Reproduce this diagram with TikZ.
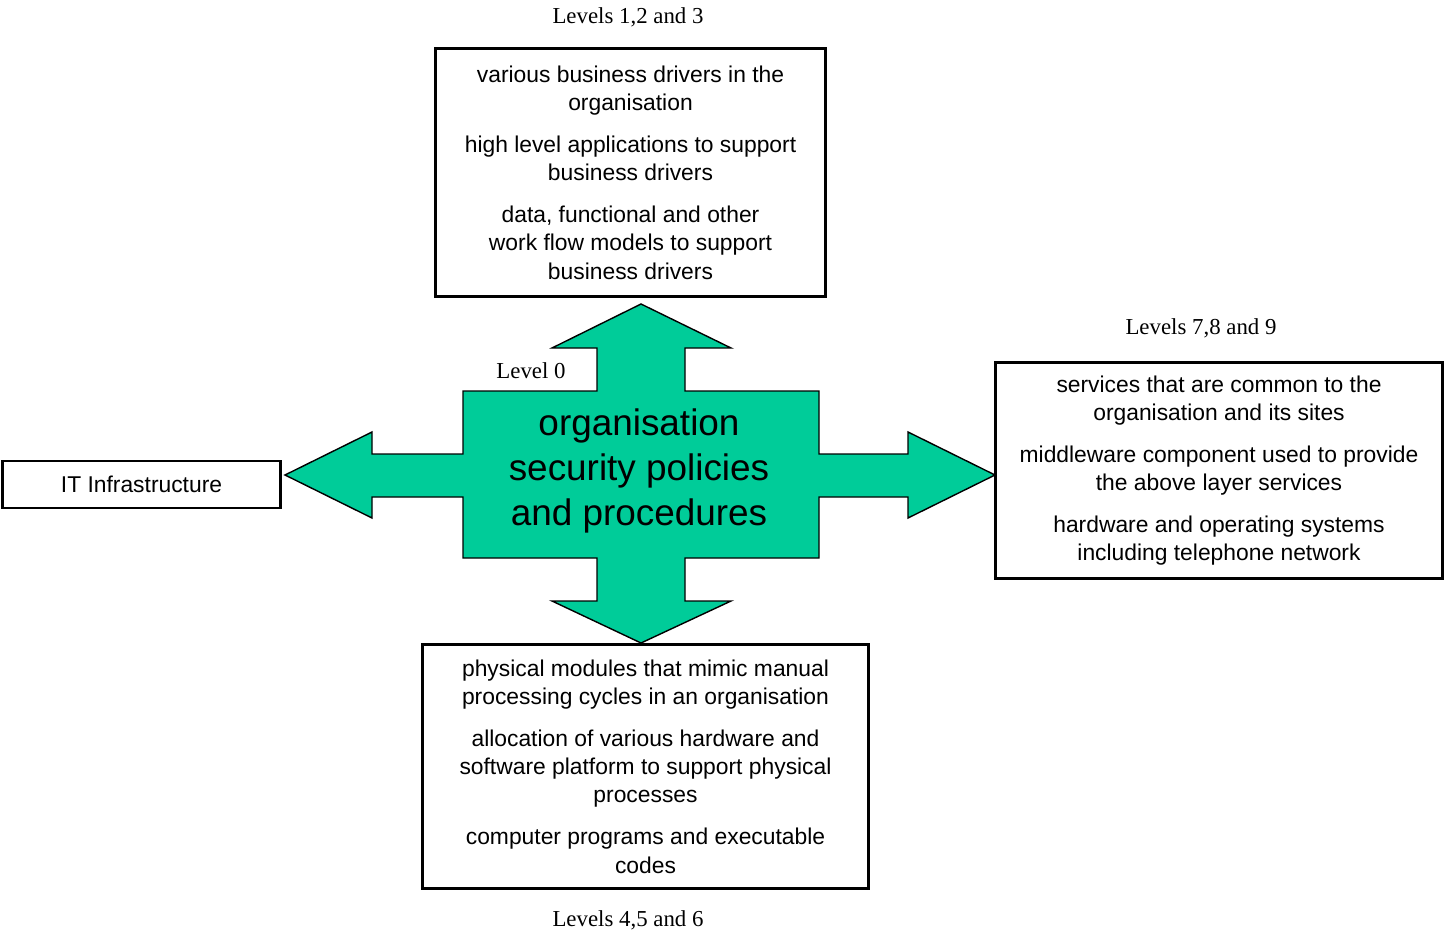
\documentclass[tikz,border=0pt]{standalone}
\usepackage{fontspec}
\setmainfont{Liberation Serif}
\setsansfont{Liberation Sans}
\definecolor{policygreen}{RGB}{0,204,153}

\tikzset{
  levelbox/.style={draw, line width=1.7pt, align=center, inner sep=0pt,
    font=\sffamily\fontsize{13}{16}\selectfont},
  levellabel/.style={font=\fontsize{13}{15}\selectfont},
  policyarm/.style={fill=policygreen, draw=black, line width=0.8pt},
}

\begin{document}
\begin{tikzpicture}[x=0.02cm, y=-0.02cm]
  \useasboundingbox (0,0) rectangle (1446,932);
  % four-way arrow around the level 0 policies
  \filldraw[policyarm] (641,304) -- (731,348) -- (685,348) -- (685,391)
    -- (819,391) -- (819,454) -- (908,454) -- (908,432) -- (995,475)
    -- (908,518) -- (908,497) -- (819,497) -- (819,558) -- (685,558)
    -- (685,601) -- (731,601) -- (641,643) -- (552,601) -- (597,601)
    -- (597,558) -- (463,558) -- (463,497) -- (372,497) -- (372,518)
    -- (285,475) -- (372,432) -- (372,454) -- (463,454) -- (463,391)
    -- (597,391) -- (597,348) -- (552,348) -- cycle;
  \node[font=\sffamily\fontsize{21}{25.8}\selectfont, align=center] (policy) at (639,471)
    {organisation\\security policies\\and procedures};
  \node[levellabel] (lvl0) at (531,371) {Level 0};

  % levels 1,2 and 3
  \node[levelbox, minimum width=7.82cm, minimum height=4.98cm] (business) at (630.5,172.5)
    {various business drivers in the\\organisation\\[8pt]
     high level applications to support\\business drivers\\[8pt]
     data, functional and other\\work flow models to support\\business drivers};
  \node[levellabel] (lvl123) at (628,17) {Levels 1,2 and 3};

  % levels 7,8 and 9
  \node[levelbox, minimum width=8.96cm, minimum height=4.34cm] (services) at (1219,470.5)
    {services that are common to the\\organisation and its sites\\[8pt]
     middleware component used to provide\\the above layer services\\[8pt]
     hardware and operating systems\\including telephone network};
  \node[levellabel] (lvl789) at (1201,328) {Levels 7,8 and 9};

  % levels 4,5 and 6
  \node[levelbox, minimum width=8.94cm, minimum height=4.9cm] (physical) at (645.5,766.5)
    {physical modules that mimic manual\\processing cycles in an organisation\\[8pt]
     allocation of various hardware and\\software platform to support physical\\processes\\[8pt]
     computer programs and executable\\codes};
  \node[levellabel] (lvl456) at (628,920) {Levels 4,5 and 6};

  % infrastructure
  \node[levelbox, minimum width=5.58cm, minimum height=0.94cm] (infra) at (141.5,484.5)
    {IT Infrastructure};
\end{tikzpicture}
\end{document}
